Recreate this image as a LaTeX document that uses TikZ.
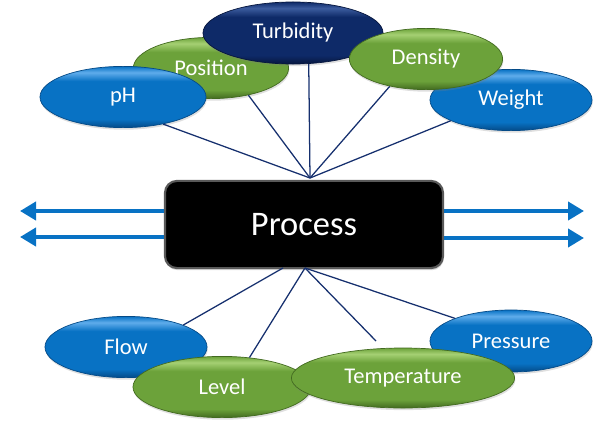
\documentclass[tikz,border=0pt]{standalone}
\usepackage{fontspec}
\setmainfont{Carlito}
\usetikzlibrary{arrows.meta,shapes.geometric,shadows}

\definecolor{ovalblue}{RGB}{8,114,196}
\definecolor{ovalbluelt}{RGB}{95,172,235}
\definecolor{ovalbluedk}{RGB}{4,74,135}
\definecolor{ovalgreen}{RGB}{108,162,58}
\definecolor{ovalgreenlt}{RGB}{165,208,115}
\definecolor{ovalgreendk}{RGB}{66,106,32}
\definecolor{ovalnavy}{RGB}{14,42,104}
\definecolor{ovalnavylt}{RGB}{60,92,158}
\definecolor{ovalnavydk}{RGB}{6,22,62}
\definecolor{linknavy}{RGB}{22,48,110}

% vertical shadings: dark rim below, flat body, highlight near the top
\pgfdeclareverticalshading{blueshade}{100bp}{color(0bp)=(ovalbluedk); color(25bp)=(ovalbluedk);
  color(32bp)=(ovalblue); color(63bp)=(ovalblue); color(70bp)=(ovalbluelt); color(75bp)=(ovalblue); color(100bp)=(ovalblue)}
\pgfdeclareverticalshading{greenshade}{100bp}{color(0bp)=(ovalgreendk); color(25bp)=(ovalgreendk);
  color(32bp)=(ovalgreen); color(63bp)=(ovalgreen); color(70bp)=(ovalgreenlt); color(75bp)=(ovalgreen); color(100bp)=(ovalgreen)}
\pgfdeclareverticalshading{navyshade}{100bp}{color(0bp)=(ovalnavydk); color(25bp)=(ovalnavydk);
  color(32bp)=(ovalnavy); color(63bp)=(ovalnavy); color(70bp)=(ovalnavylt); color(75bp)=(ovalnavy); color(100bp)=(ovalnavy)}

\begin{document}
\begin{tikzpicture}[
  x=0.025cm, y=-0.025cm,
  >=Stealth,
  oval/.style={ellipse, inner sep=0pt, minimum height=1.53cm, text=white,
    font=\fontsize{16}{18}\selectfont,
    drop shadow={opacity=0.25, shadow xshift=0.5pt, shadow yshift=-1.5pt}},
  blueoval/.style={oval, shading=blueshade, draw=ovalbluedk, line width=0.5pt},
  greenoval/.style={oval, shading=greenshade, draw=ovalgreendk, line width=0.5pt},
  navyoval/.style={oval, shading=navyshade, draw=ovalnavydk, line width=0.5pt},
  link/.style={draw=linknavy, line width=0.9pt},
  flowarrow/.style={draw=ovalblue, line width=2.8pt, -{Triangle[length=0.4cm, width=0.45cm]}},
  proc/.style={draw=black!65, line width=1.5pt, fill=black, rounded corners=0.3cm,
    minimum width=6.95cm, minimum height=2.18cm, text=white,
    font=\fontsize{24.5}{28}\selectfont,
    drop shadow={opacity=0.3, shadow xshift=0.5pt, shadow yshift=-1.5pt}}
]
\path[use as bounding box] (0,0) rectangle (603,421);

\node[proc] (process) at (304,224.5) {Process};

% in and out flows
\coordinate (inA) at (20,211);
\coordinate (inB) at (20,237);
\coordinate (outA) at (584,211);
\coordinate (outB) at (584,238);
\draw[flowarrow] (process.west |- inA) -- (inA);
\draw[flowarrow] (process.west |- inB) -- (inB);
\draw[flowarrow] (process.east |- outA) -- (outA);
\draw[flowarrow] (process.east |- outB) -- (outB);

% upper ovals
\node[greenoval, minimum width=3.88cm] (position) at (211,68) {Position};
\node[navyoval, minimum width=4.5cm, minimum height=1.55cm] (turbidity) at (293,33) {Turbidity};
\node[blueoval, minimum width=4.15cm] (ph) at (123,97) {pH};
\node[blueoval, minimum width=4.05cm] (weight) at (511,100) {Weight};
\node[greenoval, minimum width=3.83cm] (density) at (426,59) {Density};

% lower ovals
\node[blueoval, minimum width=4.05cm] (flow) at (126,347) {Flow};
\node[greenoval, minimum width=4.45cm] (level) at (222,387) {Level};
\node[blueoval, minimum width=4.05cm, minimum height=1.55cm] (pressure) at (511,341) {Pressure};
\node[greenoval, minimum width=5.58cm, minimum height=1.5cm] (temperature) at (403,378) {Temperature};

% links
\coordinate (tophub) at (310,178);
\coordinate (lowhub) at (305,268);
\coordinate (lowhubleft) at (283,268);
\coordinate (tempend) at (376,341);
\draw[link] (ph.-34) -- (tophub);
\draw[link] (position.-36) -- (tophub);
\draw[link] (turbidity.-63) -- (tophub);
\draw[link] (density.-143) -- (tophub);
\draw[link] (weight.-161) -- (tophub);
\draw[link] (lowhubleft) -- (flow.21);
\draw[link] (lowhub) -- (level.47);
\draw[link] (lowhub) -- (tempend);
\draw[link] (lowhub) -- (pressure.158);
\end{tikzpicture}
\end{document}
